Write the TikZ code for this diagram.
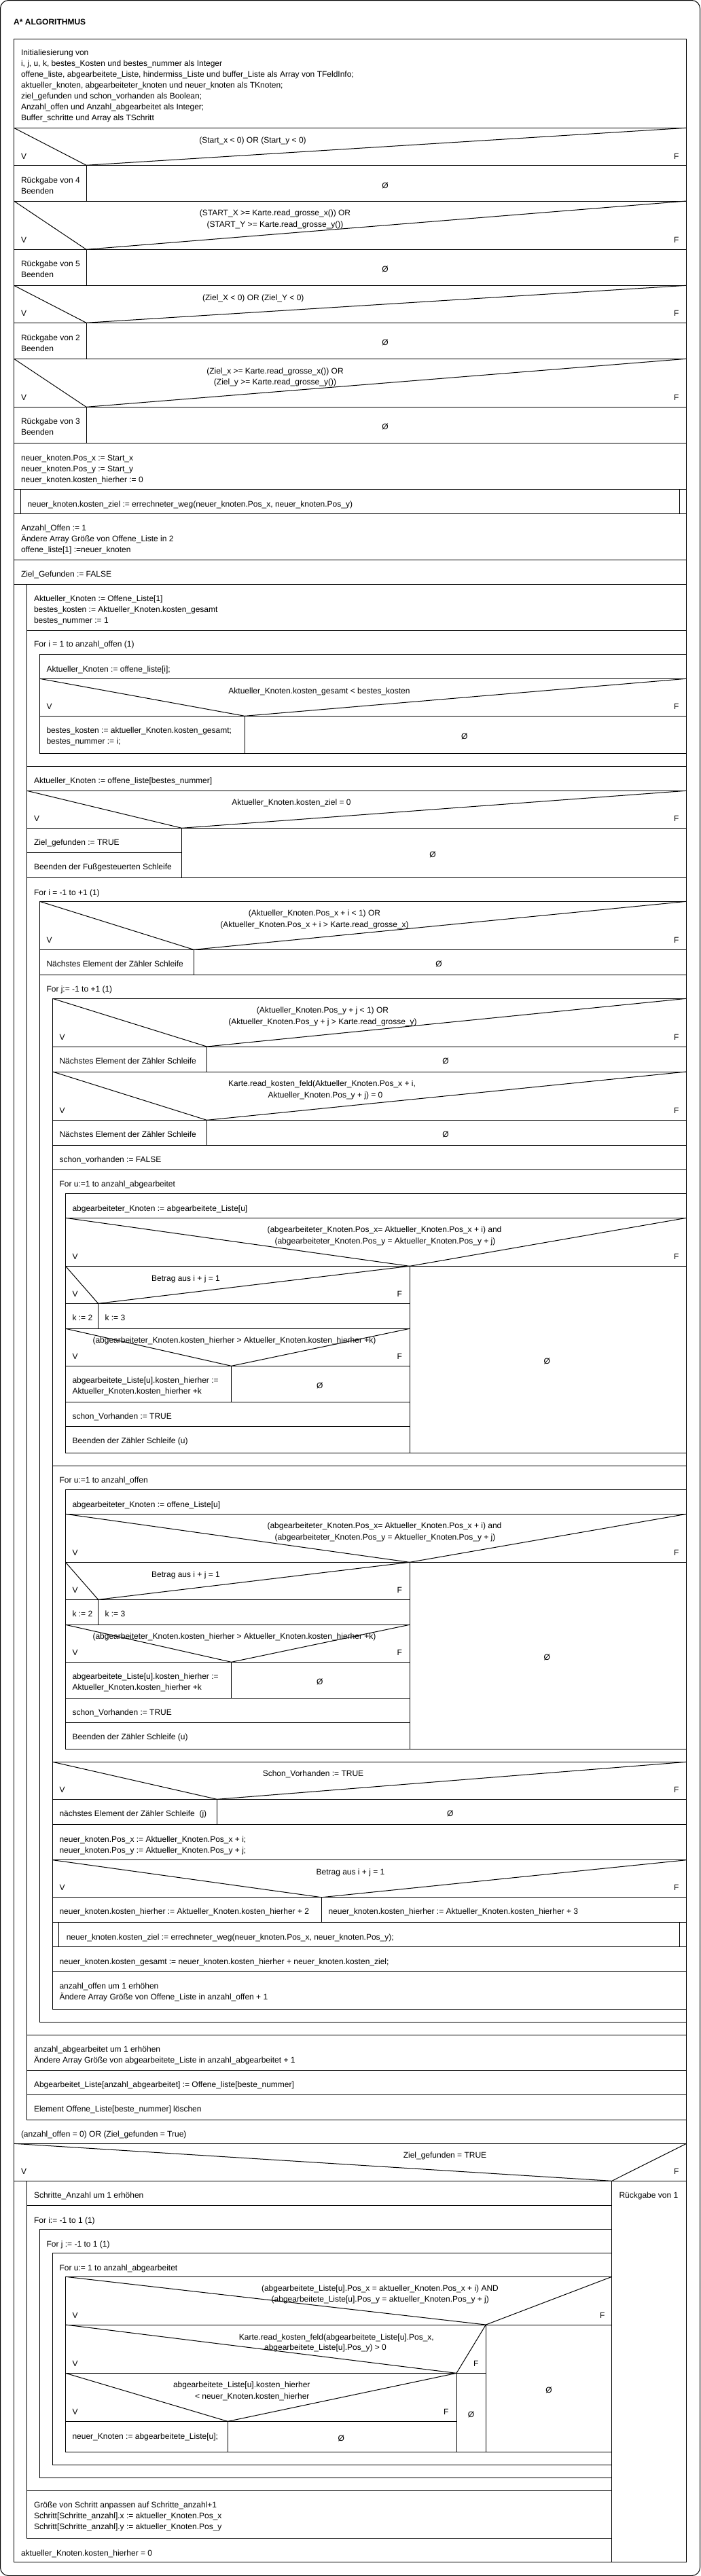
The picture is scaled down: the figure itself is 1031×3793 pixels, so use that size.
\documentclass[tikz,border=0pt]{standalone}
\usepackage{fontspec}
\setmainfont{Liberation Sans}
\usepackage{tikz}
\tikzstyle{txt}=[anchor=base west, inner sep=0pt, font=\fontsize{12}{16}\selectfont]
\tikzstyle{cond}=[anchor=base, inner sep=0pt, font=\fontsize{12}{16}\selectfont]
\tikzstyle{condr}=[anchor=base east, inner sep=0pt, font=\fontsize{12}{16}\selectfont]
\tikzstyle{flab}=[anchor=base east, inner sep=0pt, font=\fontsize{12}{16}\selectfont]
\tikzstyle{leer}=[anchor=base, inner sep=0pt, font=\fontsize{12}{16}\selectfont]
\tikzstyle{titel}=[anchor=base west, inner sep=0pt, font=\fontsize{12}{16}\selectfont\bfseries]
\begin{document}
\begin{tikzpicture}[x=1pt, y=-1pt, line width=1pt]
	\useasboundingbox (0,0) rectangle (1031,3793);
	\draw[rounded corners=12pt] (0.5,0.5) rectangle (1030.5,3792.5);
	\node[titel] (titel) at (19.7,36) {A* ALGORITHMUS};
	\draw (20.5,57) rectangle (1010.5,3772);
	\begin{scope}
		\draw (20.5,57) rectangle (1010.5,188.3);
		\node[txt] (init1) at (30.5,81.7) {Initialiesierung von};
		\node[txt] (init2) at (30.5,97.7) {i, j, u, k, bestes\_Kosten und bestes\_nummer als Integer};
		\node[txt] (init3) at (30.5,113.7) {offene\_liste, abgearbeitete\_Liste, hindermiss\_Liste und buffer\_Liste als Array von TFeldInfo;};
		\node[txt] (init4) at (30.5,129.7) {aktueller\_knoten, abgearbeiteter\_knoten und neuer\_knoten als TKnoten;};
		\node[txt] (init5) at (30.5,145.7) {ziel\_gefunden und schon\_vorhanden als Boolean;};
		\node[txt] (init6) at (30.5,161.7) {Anzahl\_offen und Anzahl\_abgearbeitet als Integer;};
		\node[txt] (init7) at (30.5,177.7) {Buffer\_schritte und Array als TSchritt};
	\end{scope}
	\begin{scope}
		\draw (20.5,188.3) -- (127,243.3) -- (1010.5,188.3);
		\draw (20.5,243.3) rectangle (1010.5,296);
		\draw (127,243.3) -- (127,296);
		\node[cond] (if1) at (372,210) {(Start\_x < 0) OR (Start\_y < 0)};
		\node[txt] (if1v) at (30.5,234) {V};
		\node[flab] (if1f) at (1000,234) {F};
		\node[txt] (r4a) at (30.5,269) {Rückgabe von 4};
		\node[txt] (r4b) at (30.5,285) {Beenden};
		\node[leer] (leer1) at (567,277) {Ø};
		\draw (20.5,296) -- (127,367.3) -- (1010.5,296);
		\draw (20.5,367.3) rectangle (1010.5,420.3);
		\draw (127,367.3) -- (127,420.3);
		\node[cond] (if2a) at (405,317) {(START\_X >= Karte.read\_grosse\_x()) OR};
		\node[cond] (if2b) at (405,334) {(START\_Y >= Karte.read\_grosse\_y())};
		\node[txt] (if2v) at (30.5,357) {V};
		\node[flab] (if2f) at (1000,357) {F};
		\node[txt] (r5a) at (30.5,392.7) {Rückgabe von 5};
		\node[txt] (r5b) at (30.5,408.7) {Beenden};
		\node[leer] (leer2) at (567,400) {Ø};
		\draw (20.5,420.3) -- (127,475.3) -- (1010.5,420.3);
		\draw (20.5,475.3) rectangle (1010.5,528.3);
		\draw (127,475.3) -- (127,528.3);
		\node[cond] (if3) at (372.8,442) {(Ziel\_X < 0) OR (Ziel\_Y < 0)};
		\node[txt] (if3v) at (30.5,465) {V};
		\node[flab] (if3f) at (1000,465) {F};
		\node[txt] (r2a) at (30.5,501) {Rückgabe von 2};
		\node[txt] (r2b) at (30.5,517) {Beenden};
		\node[leer] (leer3) at (567,508.7) {Ø};
		\draw (20.5,528.3) -- (127,599.3) -- (1010.5,528.3);
		\draw (20.5,599.3) rectangle (1010.5,652.3);
		\draw (127,599.3) -- (127,652.3);
		\node[cond] (if4a) at (405,550) {(Ziel\_x >= Karte.read\_grosse\_x()) OR};
		\node[cond] (if4b) at (405,566) {(Ziel\_y >= Karte.read\_grosse\_y())};
		\node[txt] (if4v) at (30.5,589) {V};
		\node[flab] (if4f) at (1000,589) {F};
		\node[txt] (r3a) at (30.5,624.7) {Rückgabe von 3};
		\node[txt] (r3b) at (30.5,640.7) {Beenden};
		\node[leer] (leer4) at (567,632.7) {Ø};
	\end{scope}
	\begin{scope}
		\draw (20.5,652.3) rectangle (1010.5,720.3);
		\node[txt] (nk1) at (30.5,678) {neuer\_knoten.Pos\_x := Start\_x};
		\node[txt] (nk2) at (30.5,694) {neuer\_knoten.Pos\_y := Start\_y};
		\node[txt] (nk3) at (30.5,710) {neuer\_knoten.kosten\_hierher := 0};
		\draw (20.5,720.3) rectangle (1010.5,756.3);
		\draw (30,720.3) -- (30,756.3);
		\draw (1000,720.3) -- (1000,756.3);
		\node[txt] (call1) at (40,746) {neuer\_knoten.kosten\_ziel := errechneter\_weg(neuer\_knoten.Pos\_x, neuer\_knoten.Pos\_y)};
		\draw (20.5,756.3) rectangle (1010.5,824.3);
		\node[txt] (ao1) at (30.5,781.7) {Anzahl\_Offen := 1};
		\node[txt] (ao2) at (30.5,797.7) {Ändere Array Größe von Offene\_Liste in 2};
		\node[txt] (ao3) at (30.5,813.7) {offene\_liste[1] :=neuer\_knoten};
		\draw (20.5,824.3) rectangle (1010.5,860.3);
		\node[txt] (zg0) at (30.5,849.7) {Ziel\_Gefunden := FALSE};
	\end{scope}
	\begin{scope}
		\draw (39.5,860.3) rectangle (1010.5,3121.3);
		\node[txt] (until1) at (30.5,3146.3) {(anzahl\_offen = 0) OR (Ziel\_gefunden = True)};
		\draw (20.5,3156.3) -- (1010.5,3156.3);
		\draw (39.5,860.3) rectangle (1010.5,928);
		\node[txt] (ak1) at (49.5,885.7) {Aktueller\_Knoten := Offene\_Liste[1]};
		\node[txt] (ak2) at (49.5,901.7) {bestes\_kosten := Aktueller\_Knoten.kosten\_gesamt};
		\node[txt] (ak3) at (49.5,917.7) {bestes\_nummer := 1};
		\draw (39.5,928) rectangle (1010.5,1128.3);
		\node[txt] (for1) at (49.5,952) {For i = 1 to anzahl\_offen (1)};
		\draw (58.5,963.3) rectangle (1010.5,1109.3);
		\draw (58.5,963.3) rectangle (1010.5,999.3);
		\node[txt] (ak4) at (68,989) {Aktueller\_Knoten := offene\_liste[i];};
		\draw (58.5,999.3) -- (360.3,1054.3) -- (1010.5,999.3);
		\draw (58.5,1054.3) -- (1010.5,1054.3);
		\draw (360.3,1054.3) -- (360.3,1109.3);
		\node[cond] (if5) at (470,1021) {Aktueller\_Knoten.kosten\_gesamt < bestes\_kosten};
		\node[txt] (if5v) at (68,1044.7) {V};
		\node[flab] (if5f) at (1000,1044.7) {F};
		\node[txt] (bk1) at (68,1079.7) {bestes\_kosten := aktueller\_Knoten.kosten\_gesamt;};
		\node[txt] (bk2) at (68,1095.7) {bestes\_nummer := i;};
		\node[leer] (leer5) at (683.8,1088.7) {Ø};
		\draw (39.5,1128.3) rectangle (1010.5,1164.3);
		\node[txt] (ak5) at (49.5,1153.7) {Aktueller\_Knoten := offene\_liste[bestes\_nummer]};
		\draw (39.5,1164.3) -- (267.6,1219.3) -- (1010.5,1164.3);
		\draw (39.5,1219.3) rectangle (1010.5,1292);
		\draw (267.6,1219.3) -- (267.6,1292);
		\draw (39.5,1255.3) -- (267.6,1255.3);
		\node[cond] (if6) at (429,1185.7) {Aktueller\_Knoten.kosten\_ziel = 0};
		\node[txt] (if6v) at (49.5,1209.3) {V};
		\node[flab] (if6f) at (1000,1209.3) {F};
		\node[txt] (zg1) at (49.5,1244.7) {Ziel\_gefunden := TRUE};
		\node[txt] (bf1) at (49.5,1280.7) {Beenden der Fußgesteuerten Schleife};
		\node[leer] (leer6) at (637,1262.3) {Ø};
	\end{scope}
	\begin{scope}
		\draw (39.5,1292) rectangle (1010.5,2996.3);
		\node[txt] (for2) at (49.5,1318) {For i = -1 to +1 (1)};
		\draw (58.5,1327.3) rectangle (1010.5,2977.3);
		\draw (58.5,1327.3) -- (285.3,1398.3) -- (1010.5,1327.3);
		\draw (58.5,1398.3) rectangle (1010.5,1435.3);
		\draw (285.3,1398.3) -- (285.3,1435.3);
		\node[cond] (if7a) at (463,1348.7) {(Aktueller\_Knoten.Pos\_x + i < 1) OR};
		\node[cond] (if7b) at (463,1365) {(Aktueller\_Knoten.Pos\_x + i > Karte.read\_grosse\_x)};
		\node[txt] (if7v) at (68,1388.7) {V};
		\node[flab] (if7f) at (1000,1388.7) {F};
		\node[txt] (ne1) at (68,1423.7) {Nächstes Element der Zähler Schleife};
		\node[leer] (leer7) at (646,1423.7) {Ø};
		\node[txt] (for3) at (68,1460.7) {For j:= -1 to +1 (1)};
		\draw (77.5,1470.3) rectangle (1010.5,2958);
		\draw (77.5,1470.3) -- (304.4,1541) -- (1010.5,1470.3);
		\draw (77.5,1541) rectangle (1010.5,1578);
		\draw (304.4,1541) -- (304.4,1578);
		\node[cond] (if8a) at (475,1491.7) {(Aktueller\_Knoten.Pos\_y + j < 1) OR};
		\node[cond] (if8b) at (475,1508) {(Aktueller\_Knoten.Pos\_y + j > Karte.read\_grosse\_y)};
		\node[txt] (if8v) at (87,1531.3) {V};
		\node[flab] (if8f) at (1000,1531.3) {F};
		\node[txt] (ne2) at (87,1566.3) {Nächstes Element der Zähler Schleife};
		\node[leer] (leer8) at (656,1566.3) {Ø};
		\draw (77.5,1578) -- (304.4,1649.3) -- (1010.5,1578);
		\draw (77.5,1649.3) rectangle (1010.5,1686.3);
		\draw (304.4,1649.3) -- (304.4,1686.3);
		\node[cond] (if9a) at (474,1599.7) {Karte.read\_kosten\_feld(Aktueller\_Knoten.Pos\_x + i,};
		\node[cond] (if9b) at (479,1616) {Aktueller\_Knoten.Pos\_y + j) = 0};
		\node[txt] (if9v) at (87,1639.7) {V};
		\node[flab] (if9f) at (1000,1639.7) {F};
		\node[txt] (ne3) at (87,1674.7) {Nächstes Element der Zähler Schleife};
		\node[leer] (leer9) at (656,1674.7) {Ø};
		\draw (77.5,1686.3) rectangle (1010.5,1722.3);
		\node[txt] (sv1) at (87,1711.7) {schon\_vorhanden := FALSE};
	\end{scope}
	\begin{scope}
		\draw (77.5,1722.3) rectangle (1010.5,2158.3);
		\node[txt] (for4) at (87,1747.7) {For u:=1 to anzahl\_abgearbeitet};
		\draw (96.5,1757.3) rectangle (1010.5,2139);
		\draw (96.5,1757.3) rectangle (1010.5,1793.3);
		\node[txt] (ab1) at (106,1783) {abgearbeiteter\_Knoten := abgearbeitete\_Liste[u]};
		\draw (96.5,1793.3) -- (603,1864.3) -- (1010.5,1793.3);
		\draw (96.5,1864.3) -- (1010.5,1864.3);
		\draw (603,1864.3) -- (603,2139);
		\node[cond] (if10a) at (566,1814.7) {(abgearbeiteter\_Knoten.Pos\_x= Aktueller\_Knoten.Pos\_x + i) and};
		\node[cond] (if10b) at (567,1831) {(abgearbeiteter\_Knoten.Pos\_y = Aktueller\_Knoten.Pos\_y + j)};
		\node[txt] (if10v) at (106,1854.3) {V};
		\node[flab] (if10f) at (1000,1854.3) {F};
		\node[leer] (leer10) at (805.4,2008) {Ø};
		\draw (96.5,1864.3) -- (144.6,1919.3) -- (603,1864.3);
		\draw (96.5,1919.3) rectangle (603,1956.3);
		\draw (144.6,1919.3) -- (144.6,1956.3);
		\node[cond] (if11) at (273.5,1886) {Betrag aus i + j = 1};
		\node[txt] (if11v) at (106,1909.3) {V};
		\node[flab] (if11f) at (592.5,1909.3) {F};
		\node[txt] (k2a) at (106,1944.7) {k := 2};
		\node[txt] (k3a) at (154,1944.7) {k := 3};
		\draw (96.5,1956.3) -- (340.6,2011.3) -- (603,1956.3);
		\draw (96.5,2011.3) rectangle (603,2064.3);
		\draw (340.6,2011.3) -- (340.6,2064.3);
		\node[cond] (if12) at (345,1977.7) {(abgearbeiteter\_Knoten.kosten\_hierher > Aktueller\_Knoten.kosten\_hierher +k)};
		\node[txt] (if12v) at (106,2001) {V};
		\node[flab] (if12f) at (592.5,2001) {F};
		\node[txt] (kh1a) at (106,2036.7) {abgearbeitete\_Liste[u].kosten\_hierher :=};
		\node[txt] (kh1b) at (106,2052.7) {Aktueller\_Knoten.kosten\_hierher +k};
		\node[leer] (leer11) at (470.7,2044.3) {Ø};
		\draw (96.5,2064.3) rectangle (603,2100.3);
		\node[txt] (sv2) at (106,2089.7) {schon\_Vorhanden := TRUE};
		\node[txt] (bz1) at (106,2125.7) {Beenden der Zähler Schleife (u)};
	\end{scope}
	\begin{scope}
		\draw (77.5,2158.3) rectangle (1010.5,2594.3);
		\node[txt] (for5) at (87,2183.7) {For u:=1 to anzahl\_offen};
		\draw (96.5,2193.3) rectangle (1010.5,2575);
		\draw (96.5,2193.3) rectangle (1010.5,2229.3);
		\node[txt] (ab2) at (106,2219) {abgearbeiteter\_Knoten := offene\_Liste[u]};
		\draw (96.5,2229.3) -- (603,2300.3) -- (1010.5,2229.3);
		\draw (96.5,2300.3) -- (1010.5,2300.3);
		\draw (603,2300.3) -- (603,2575);
		\node[cond] (if13a) at (566,2250.7) {(abgearbeiteter\_Knoten.Pos\_x= Aktueller\_Knoten.Pos\_x + i) and};
		\node[cond] (if13b) at (567,2267) {(abgearbeiteter\_Knoten.Pos\_y = Aktueller\_Knoten.Pos\_y + j)};
		\node[txt] (if13v) at (106,2290.3) {V};
		\node[flab] (if13f) at (1000,2290.3) {F};
		\node[leer] (leer12) at (805.4,2444) {Ø};
		\draw (96.5,2300.3) -- (144.6,2355.3) -- (603,2300.3);
		\draw (96.5,2355.3) rectangle (603,2392.3);
		\draw (144.6,2355.3) -- (144.6,2392.3);
		\node[cond] (if14) at (273.5,2322) {Betrag aus i + j = 1};
		\node[txt] (if14v) at (106,2345.3) {V};
		\node[flab] (if14f) at (592.5,2345.3) {F};
		\node[txt] (k2b) at (106,2380.7) {k := 2};
		\node[txt] (k3b) at (154,2380.7) {k := 3};
		\draw (96.5,2392.3) -- (340.6,2447.3) -- (603,2392.3);
		\draw (96.5,2447.3) rectangle (603,2500.3);
		\draw (340.6,2447.3) -- (340.6,2500.3);
		\node[cond] (if15) at (345,2413.7) {(abgearbeiteter\_Knoten.kosten\_hierher > Aktueller\_Knoten.kosten\_hierher +k)};
		\node[txt] (if15v) at (106,2437) {V};
		\node[flab] (if15f) at (592.5,2437) {F};
		\node[txt] (kh2a) at (106,2472.7) {abgearbeitete\_Liste[u].kosten\_hierher :=};
		\node[txt] (kh2b) at (106,2488.7) {Aktueller\_Knoten.kosten\_hierher +k};
		\node[leer] (leer13) at (470.7,2480.3) {Ø};
		\draw (96.5,2500.3) rectangle (603,2536.3);
		\node[txt] (sv3) at (106,2525.7) {schon\_Vorhanden := TRUE};
		\node[txt] (bz2) at (106,2561.7) {Beenden der Zähler Schleife (u)};
	\end{scope}
	\begin{scope}
		\draw (77.5,2594.3) -- (319.5,2649.3) -- (1010.5,2594.3);
		\draw (77.5,2649.3) rectangle (1010.5,2686.3);
		\draw (319.5,2649.3) -- (319.5,2686.3);
		\node[cond] (if16) at (461,2615.7) {Schon\_Vorhanden := TRUE};
		\node[txt] (if16v) at (87,2639.3) {V};
		\node[flab] (if16f) at (1000,2639.3) {F};
		\node[txt] (ne4) at (87,2674.7) {nächstes Element der Zähler Schleife\ \ (j)};
		\node[leer] (leer14) at (662.7,2674.7) {Ø};
		\draw (77.5,2686.3) rectangle (1010.5,2738.7);
		\node[txt] (np1) at (87,2712) {neuer\_knoten.Pos\_x := Aktueller\_Knoten.Pos\_x + i;};
		\node[txt] (np2) at (87,2728) {neuer\_knoten.Pos\_y := Aktueller\_Knoten.Pos\_y + j;};
		\draw (77.5,2738.7) -- (473.4,2793.7) -- (1010.5,2738.7);
		\draw (77.5,2793.7) rectangle (1010.5,2830.3);
		\draw (473.4,2793.7) -- (473.4,2830.3);
		\node[cond] (if17) at (516,2760) {Betrag aus i + j = 1};
		\node[txt] (if17v) at (87,2783.3) {V};
		\node[flab] (if17f) at (1000,2783.3) {F};
		\node[txt] (nh2) at (87,2818.7) {neuer\_knoten.kosten\_hierher := Aktueller\_Knoten.kosten\_hierher + 2};
		\node[txt] (nh3) at (483,2818.7) {neuer\_knoten.kosten\_hierher := Aktueller\_Knoten.kosten\_hierher + 3};
		\draw (77.5,2830.3) rectangle (1010.5,2866.3);
		\draw (86.8,2830.3) -- (86.8,2866.3);
		\draw (1000,2830.3) -- (1000,2866.3);
		\node[txt] (call2) at (97.3,2856.3) {neuer\_knoten.kosten\_ziel := errechneter\_weg(neuer\_knoten.Pos\_x, neuer\_knoten.Pos\_y);};
		\draw (77.5,2866.3) rectangle (1010.5,2902.3);
		\node[txt] (ng1) at (87,2892.3) {neuer\_knoten.kosten\_gesamt := neuer\_knoten.kosten\_hierher + neuer\_knoten.kosten\_ziel;};
		\node[txt] (ao4) at (87,2928) {anzahl\_offen um 1 erhöhen};
		\node[txt] (ao5) at (87,2944) {Ändere Array Größe von Offene\_Liste in anzahl\_offen + 1};
	\end{scope}
	\begin{scope}
		\draw (39.5,2996.3) rectangle (1010.5,3048.3);
		\node[txt] (aa1) at (49.5,3021.7) {anzahl\_abgearbeitet um 1 erhöhen};
		\node[txt] (aa2) at (49.5,3037.7) {Ändere Array Größe von abgearbeitete\_Liste in anzahl\_abgearbeitet + 1};
		\draw (39.5,3048.3) rectangle (1010.5,3084.3);
		\node[txt] (aa3) at (49.5,3073.7) {Abgearbeitet\_Liste[anzahl\_abgearbeitet] := Offene\_liste[beste\_nummer]};
		\node[txt] (aa4) at (49.5,3109.7) {Element Offene\_Liste[beste\_nummer] löschen};
	\end{scope}
	\begin{scope}
		\draw (20.5,3156.3) -- (900.7,3211.3) -- (1010.5,3156.3);
		\draw (20.5,3211.3) -- (1010.5,3211.3);
		\draw (900.7,3211.3) -- (900.7,3772);
		\node[cond] (if18) at (655,3177.7) {Ziel\_gefunden = TRUE};
		\node[txt] (if18v) at (30.5,3201.3) {V};
		\node[flab] (if18f) at (1000,3201.3) {F};
		\node[txt] (r1) at (911,3236.7) {Rückgabe von 1};
		\draw (39.5,3211.3) rectangle (900.7,3737.3);
		\node[txt] (until2) at (30.5,3763) {aktueller\_Knoten.kosten\_hierher = 0};
		\draw (39.5,3211.3) rectangle (900.7,3247.3);
		\node[txt] (sa1) at (49.5,3236.7) {Schritte\_Anzahl um 1 erhöhen};
		\draw (39.5,3247.3) rectangle (900.7,3667.3);
		\node[txt] (for6) at (49.5,3273) {For i:= -1 to 1 (1)};
		\draw (58.5,3282.3) rectangle (900.7,3648.3);
		\node[txt] (for7) at (68,3308) {For j := -1 to 1 (1)};
		\draw (77.5,3317.3) rectangle (900.7,3629.3);
		\node[txt] (for8) at (87,3343) {For u:= 1 to anzahl\_abgearbeitet};
		\draw (96.5,3352.3) rectangle (900.7,3610.3);
		\draw (96.5,3352.3) -- (715.3,3423) -- (900.7,3352.3);
		\draw (96.5,3423) -- (900.7,3423);
		\draw (715.3,3423) -- (715.3,3610.3);
		\node[cond] (if19a) at (559.5,3373.7) {(abgearbeitete\_Liste[u].Pos\_x = aktueller\_Knoten.Pos\_x + i) AND};
		\node[cond] (if19b) at (559.8,3389.7) {(abgearbeitete\_Liste[u].Pos\_y = aktueller\_Knoten.Pos\_y + j)};
		\node[txt] (if19v) at (106,3413.3) {V};
		\node[flab] (if19f) at (891,3413.3) {F};
		\node[leer] (leer15) at (808,3523.3) {Ø};
		\draw (96.5,3423) -- (672,3494.3) -- (715.3,3423);
		\draw (96.5,3494.3) -- (715.3,3494.3);
		\draw (672,3494.3) -- (672,3610.3);
		\node[cond] (if20a) at (495.4,3445) {Karte.read\_kosten\_feld(abgearbeitete\_Liste[u].Pos\_x,};
		\node[cond] (if20b) at (479,3460.7) {abgearbeitete\_Liste[u].Pos\_y) > 0};
		\node[txt] (if20v) at (106,3484) {V};
		\node[flab] (if20f) at (705,3484) {F};
		\node[leer] (leer16) at (693.6,3559.3) {Ø};
		\draw (96.5,3494.3) -- (335.3,3565.3) -- (672,3494.3);
		\draw (96.5,3565.3) -- (672,3565.3);
		\draw (335.3,3565.3) -- (335.3,3610.3);
		\node[condr] (if21a) at (457,3515.7) {abgearbeitete\_Liste[u].kosten\_hierher};
		\node[condr] (if21b) at (456,3532) {< neuer\_Knoten.kosten\_hierher};
		\node[txt] (if21v) at (106,3555.3) {V};
		\node[flab] (if21f) at (661,3555.3) {F};
		\node[txt] (nk4) at (106,3591.3) {neuer\_Knoten := abgearbeitete\_Liste[u];};
		\node[leer] (leer17) at (502.3,3594.3) {Ø};
		\node[txt] (gs1) at (49.5,3692.7) {Größe von Schritt anpassen auf Schritte\_anzahl+1};
		\node[txt] (gs2) at (49.5,3708.7) {Schritt[Schritte\_anzahl].x := aktueller\_Knoten.Pos\_x};
		\node[txt] (gs3) at (49.5,3724.7) {Schritt[Schritte\_anzahl].y := aktueller\_Knoten.Pos\_y};
	\end{scope}
\end{tikzpicture}
\end{document}
